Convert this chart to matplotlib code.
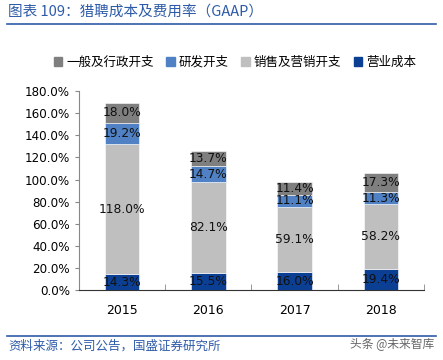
import matplotlib.pyplot as plt
import matplotlib.lines as mlines
from matplotlib.patches import Patch
import numpy as np

plt.rcParams['font.family'] = ['DejaVu Sans', 'Noto Sans CJK SC']

years = ["2015", "2016", "2017", "2018"]
cost = [14.3, 15.5, 16.0, 19.4]        # 营业成本
sales = [118.0, 82.1, 59.1, 58.2]      # 销售及营销开支
rnd = [19.2, 14.7, 11.1, 11.3]         # 研发开支
admin = [18.0, 13.7, 11.4, 17.3]       # 一般及行政开支

series = [
    ("营业成本", cost, "#0B3F94"),
    ("销售及营销开支", sales, "#BFBFBF"),
    ("研发开支", rnd, "#4F81C4"),
    ("一般及行政开支", admin, "#7F7F7F"),
]

fig = plt.figure(figsize=(4.43, 3.6), dpi=100)
ax = fig.add_axes([0.178, 0.194, 0.779, 0.553])

x = np.arange(len(years))
bottom = np.zeros(len(years))
handles = {}
for name, vals, col in series:
    vals = np.array(vals)
    ax.bar(x, vals, 0.4, bottom=bottom, color=col, edgecolor="white", linewidth=0.4)
    handles[name] = Patch(color=col)
    for xi, b, v in zip(x, bottom, vals):
        ax.text(xi, b + v / 2, f"{v:.1f}%", ha="center", va="center", fontsize=8.8, color="#111111")
    bottom += vals

ax.set_xlim(-0.5, 3.5)
ax.set_ylim(0, 180)
ax.set_yticks(np.arange(0, 181, 20))
ax.set_yticklabels([f"{v:.1f}%" for v in range(0, 181, 20)], fontsize=8.6)
ax.set_xticks(x)
ax.set_xticklabels(years, fontsize=9)
ax.set_xticks(np.arange(-0.5, 4, 1), minor=True)
ax.tick_params(axis="x", which="major", length=0, pad=10)
ax.tick_params(axis="x", which="minor", length=4, direction="in", color="#888888")
ax.tick_params(axis="y", length=3, color="#888888")
for s in ["top", "right"]:
    ax.spines[s].set_visible(False)
ax.spines["left"].set_color("#888888")
ax.spines["bottom"].set_color("#333333")

order = ["一般及行政开支", "研发开支", "销售及营销开支", "营业成本"]
fig.legend([handles[n] for n in order], order, loc="center", ncol=4,
           bbox_to_anchor=(0.53, 1 - 62 / 360), frameon=False,
           handlelength=0.7, handleheight=0.7, handletextpad=0.3, columnspacing=1.0,
           prop={"family": ["Noto Sans CJK SC"], "size": 9})

fig.text(0.018, 1 - 12 / 360, "图表 109：猎聘成本及费用率（GAAP）", fontsize=10.5,
         color="#2E5BA8", style="italic", va="center", family=["Noto Sans CJK SC", "DejaVu Sans"])
fig.add_artist(mlines.Line2D([7 / 443, 436 / 443], [1 - 24 / 360, 1 - 24 / 360], color="#2E5BA8", lw=1.2))
fig.add_artist(mlines.Line2D([7 / 443, 436 / 443], [1 - 336 / 360, 1 - 336 / 360], color="#2E5BA8", lw=1.2))
fig.text(0.018, 1 - 346 / 360, "资料来源：公司公告，国盛证券研究所", fontsize=9,
         color="#2E5BA8", style="italic", va="center", family=["Noto Sans CJK SC"])
fig.text(0.98, 1 - 345 / 360, "头条 @未来智库", fontsize=8.5, color="#666666",
         ha="right", va="center", family=["Noto Sans CJK SC"])

fig.savefig("out.png", dpi=100)
